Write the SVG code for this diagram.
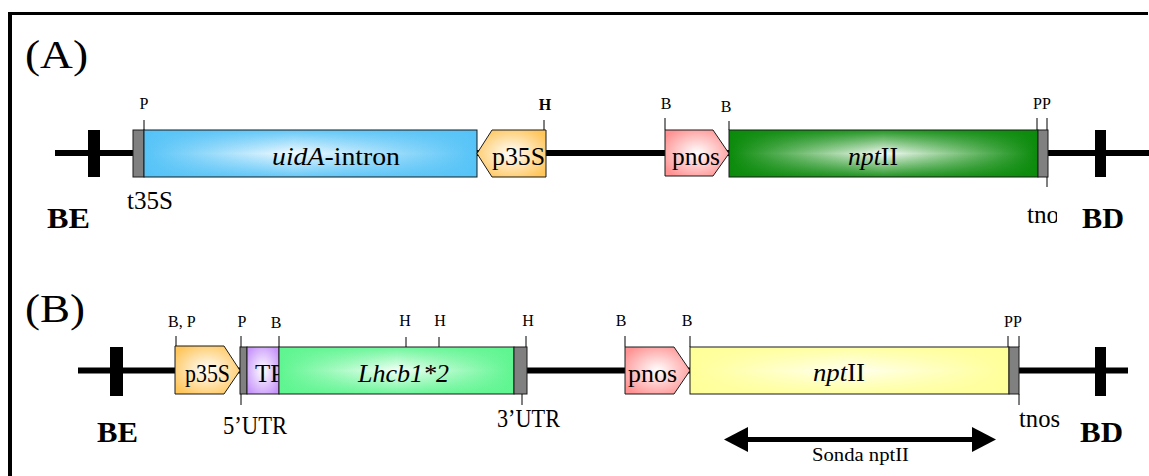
<svg xmlns="http://www.w3.org/2000/svg" width="1149" height="476" viewBox="0 0 1149 476">
  <style>
    text { font-family: "Liberation Serif", "Times New Roman", serif; fill: #000; }
    .site { font-size: 16px; }
    .siteb { font-size: 16px; font-weight: bold; }
    .lbl { font-size: 25px; }
    .it { font-style: italic; }
    .tag { font-size: 40px; }
    .end { font-size: 30px; font-weight: bold; }
    .probe { font-size: 19px; }
    .tick { stroke: #000; stroke-width: 1; fill: none; }
    .box { stroke: #1a1a1a; stroke-width: 1; }
    .term { fill: #808080; stroke: #1a1a1a; stroke-width: 1; }
    .bar { fill: #000; }
    .dna { stroke: #000; stroke-width: 6; fill: none; }
  </style>
  <defs>
    <!-- horizontal shading: saturated edges, pale centre -->
    <linearGradient id="gBlue" x1="0" y1="0" x2="1" y2="0">
      <stop offset="0" stop-color="#55C3F7"/>
      <stop offset="0.45" stop-color="#F2FAFF"/>
      <stop offset="1" stop-color="#55C3F7"/>
    </linearGradient>
    <linearGradient id="gBlueV" x1="0" y1="0" x2="0" y2="1">
      <stop offset="0" stop-color="#55C3F7" stop-opacity="0.9"/>
      <stop offset="0.5" stop-color="#55C3F7" stop-opacity="0"/>
      <stop offset="1" stop-color="#55C3F7" stop-opacity="0.9"/>
    </linearGradient>
    <linearGradient id="gDkGreen" x1="0" y1="0" x2="1" y2="0">
      <stop offset="0" stop-color="#0A8A0A"/>
      <stop offset="0.5" stop-color="#F4FAF4"/>
      <stop offset="1" stop-color="#0A8A0A"/>
    </linearGradient>
    <linearGradient id="gDkGreenV" x1="0" y1="0" x2="0" y2="1">
      <stop offset="0" stop-color="#0A8A0A" stop-opacity="0.9"/>
      <stop offset="0.5" stop-color="#0A8A0A" stop-opacity="0"/>
      <stop offset="1" stop-color="#0A8A0A" stop-opacity="0.9"/>
    </linearGradient>
    <linearGradient id="gLtGreen" x1="0" y1="0" x2="1" y2="0">
      <stop offset="0" stop-color="#5EF590"/>
      <stop offset="0.5" stop-color="#F4FFF7"/>
      <stop offset="1" stop-color="#5EF590"/>
    </linearGradient>
    <linearGradient id="gLtGreenV" x1="0" y1="0" x2="0" y2="1">
      <stop offset="0" stop-color="#5EF590" stop-opacity="0.9"/>
      <stop offset="0.5" stop-color="#5EF590" stop-opacity="0"/>
      <stop offset="1" stop-color="#5EF590" stop-opacity="0.9"/>
    </linearGradient>
    <linearGradient id="gYellow" x1="0" y1="0" x2="1" y2="0">
      <stop offset="0" stop-color="#FFFF99"/>
      <stop offset="0.5" stop-color="#FFFFF2"/>
      <stop offset="1" stop-color="#FFFF99"/>
    </linearGradient>
    <linearGradient id="gYellowV" x1="0" y1="0" x2="0" y2="1">
      <stop offset="0" stop-color="#FFFF99" stop-opacity="0.9"/>
      <stop offset="0.5" stop-color="#FFFF99" stop-opacity="0"/>
      <stop offset="1" stop-color="#FFFF99" stop-opacity="0.9"/>
    </linearGradient>
    <radialGradient id="gOrange" cx="0.5" cy="0.5" r="0.6">
      <stop offset="0" stop-color="#FFFFFF"/>
      <stop offset="1" stop-color="#FFC65C"/>
    </radialGradient>
    <radialGradient id="gPink" cx="0.5" cy="0.5" r="0.6">
      <stop offset="0" stop-color="#FFFFFF"/>
      <stop offset="1" stop-color="#FF9393"/>
    </radialGradient>
    <radialGradient id="gPurple" cx="0.5" cy="0.5" r="0.6">
      <stop offset="0" stop-color="#FFFFFF"/>
      <stop offset="1" stop-color="#C896FA"/>
    </radialGradient>
    <clipPath id="clipTnosA"><rect x="1000" y="190" width="57" height="50"/></clipPath>
    <clipPath id="clipTP"><rect x="247" y="347" width="32" height="47"/></clipPath>
  </defs>

  <!-- panel frame (top and left edges) -->
  <g id="frame">
    <line x1="8" y1="13.5" x2="1148" y2="13.5" stroke="#000" stroke-width="3"/>
    <line x1="10" y1="12" x2="10" y2="476" stroke="#000" stroke-width="4"/>
  </g>

  <text class="tag" x="25" y="68" textLength="63" lengthAdjust="spacingAndGlyphs">(A)</text>
  <text class="tag" x="25" y="322" textLength="60" lengthAdjust="spacingAndGlyphs">(B)</text>

  <!-- backbones and probe arrow -->
  <g id="connectors">
    <line class="dna" x1="55" y1="153" x2="1149" y2="153"/>
    <line class="dna" x1="78" y1="370.5" x2="1128" y2="370.5"/>
    <g id="probe">
      <line x1="746" y1="439.5" x2="974" y2="439.5" stroke="#000" stroke-width="5"/>
      <polygon points="724,439.5 748,427 748,452" fill="#000"/>
      <polygon points="996,439.5 972,427 972,452" fill="#000"/>
    </g>
  </g>

  <!-- ===== construct A ===== -->
  <g id="a-border-left">
    <rect class="bar" x="88" y="130" width="12" height="47"/>
    <text class="end" x="47" y="228" textLength="43" lengthAdjust="spacingAndGlyphs">BE</text>
  </g>
  <g id="a-t35S">
    <rect class="term" x="133" y="130" width="11" height="47"/>
    <text class="lbl" x="127" y="209" textLength="46" lengthAdjust="spacingAndGlyphs">t35S</text>
  </g>
  <g id="a-uidA">
    <rect x="144" y="130" width="333" height="47" fill="url(#gBlue)"/>
    <rect class="box" x="144" y="130" width="333" height="47" fill="url(#gBlueV)"/>
    <text class="lbl" x="272" y="165" textLength="128" lengthAdjust="spacingAndGlyphs"><tspan class="it">uidA</tspan>-intron</text>
  </g>
  <g id="a-p35S">
    <polygon class="box" points="477,153.5 492,130 546,130 546,177 492,177" fill="url(#gOrange)"/>
    <text class="lbl" x="492" y="165" textLength="53" lengthAdjust="spacingAndGlyphs">p35S</text>
  </g>
  <g id="a-pnos">
    <polygon class="box" points="665,130 713,130 729,153.5 713,176 665,176" fill="url(#gPink)"/>
    <text class="lbl" x="672" y="165" textLength="48" lengthAdjust="spacingAndGlyphs">pnos</text>
  </g>
  <g id="a-nptII">
    <rect x="729" y="130" width="309" height="47" fill="url(#gDkGreen)"/>
    <rect class="box" x="729" y="130" width="309" height="47" fill="url(#gDkGreenV)"/>
    <text class="lbl" x="848" y="165" textLength="50" lengthAdjust="spacingAndGlyphs"><tspan class="it">npt</tspan>II</text>
  </g>
  <g id="a-tnos">
    <rect class="term" x="1038" y="130" width="10" height="47"/>
    <text class="lbl" x="1027" y="223" clip-path="url(#clipTnosA)" textLength="42" lengthAdjust="spacingAndGlyphs">tnos</text>
  </g>
  <g id="a-border-right">
    <rect class="bar" x="1095" y="130" width="11" height="47"/>
    <text class="end" x="1082" y="228" textLength="42" lengthAdjust="spacingAndGlyphs">BD</text>
  </g>
  <g id="a-sites">
    <line class="tick" x1="144" y1="120" x2="144" y2="130"/>
    <text class="site" x="144" y="109" text-anchor="middle">P</text>
    <line class="tick" x1="544" y1="120" x2="544" y2="130"/>
    <text class="siteb" x="545" y="110" text-anchor="middle">H</text>
    <line class="tick" x1="665" y1="118" x2="665" y2="130"/>
    <text class="site" x="666" y="109" text-anchor="middle">B</text>
    <line class="tick" x1="729" y1="121" x2="729" y2="130"/>
    <text class="site" x="726" y="112" text-anchor="middle">B</text>
    <line class="tick" x1="1037" y1="118" x2="1037" y2="130"/>
    <line class="tick" x1="1047" y1="118" x2="1047" y2="130"/>
    <line class="tick" x1="1047" y1="177" x2="1047" y2="187"/>
    <text class="site" x="1042" y="109" text-anchor="middle">PP</text>
  </g>

  <!-- ===== construct B ===== -->
  <g id="b-border-left">
    <rect class="bar" x="110" y="347" width="13" height="49"/>
    <text class="end" x="97" y="442" textLength="41" lengthAdjust="spacingAndGlyphs">BE</text>
  </g>
  <g id="b-p35S">
    <polygon class="box" points="175,346 224,346 240,370.5 224,394 175,394" fill="url(#gOrange)"/>
    <text class="lbl" x="185" y="382" textLength="45" lengthAdjust="spacingAndGlyphs">p35S</text>
  </g>
  <g id="b-5UTR">
    <rect class="term" x="240" y="347" width="7" height="47"/>
    <text class="lbl" x="223" y="434" textLength="64" lengthAdjust="spacingAndGlyphs">5’UTR</text>
  </g>
  <g id="b-TP">
    <rect class="box" x="247" y="347" width="32" height="47" fill="url(#gPurple)"/>
    <text class="lbl" x="255" y="382" clip-path="url(#clipTP)">TP</text>
  </g>
  <g id="b-Lhcb">
    <rect x="279" y="347" width="235" height="47" fill="url(#gLtGreen)"/>
    <rect class="box" x="279" y="347" width="235" height="47" fill="url(#gLtGreenV)"/>
    <text class="lbl it" x="358" y="382" textLength="91" lengthAdjust="spacingAndGlyphs">Lhcb1*2</text>
  </g>
  <g id="b-3UTR">
    <rect class="term" x="514" y="347" width="13" height="47"/>
    <text class="lbl" x="497" y="427" textLength="63" lengthAdjust="spacingAndGlyphs">3’UTR</text>
  </g>
  <g id="b-pnos">
    <polygon class="box" points="625,347 674,347 690,370.5 674,394 625,394" fill="url(#gPink)"/>
    <text class="lbl" x="628" y="382" textLength="49" lengthAdjust="spacingAndGlyphs">pnos</text>
  </g>
  <g id="b-nptII">
    <rect x="690" y="347" width="319" height="47" fill="url(#gYellow)"/>
    <rect class="box" x="690" y="347" width="319" height="47" fill="url(#gYellowV)"/>
    <text class="lbl" x="813" y="381" textLength="52" lengthAdjust="spacingAndGlyphs"><tspan class="it">npt</tspan>II</text>
  </g>
  <g id="b-tnos">
    <rect class="term" x="1009" y="347" width="10" height="47"/>
    <text class="lbl" x="1019" y="427" textLength="41" lengthAdjust="spacingAndGlyphs">tnos</text>
  </g>
  <g id="b-border-right">
    <rect class="bar" x="1095" y="347" width="11" height="49"/>
    <text class="end" x="1080" y="442" textLength="43" lengthAdjust="spacingAndGlyphs">BD</text>
  </g>
  <g id="b-sites">
    <line class="tick" x1="176" y1="336" x2="176" y2="346"/>
    <text class="site" x="168" y="327">B, P</text>
    <line class="tick" x1="241" y1="336" x2="241" y2="347"/>
    <line class="tick" x1="241" y1="394" x2="241" y2="405"/>
    <text class="site" x="242" y="327" text-anchor="middle">P</text>
    <line class="tick" x1="279" y1="336" x2="279" y2="347"/>
    <text class="site" x="276" y="328" text-anchor="middle">B</text>
    <line class="tick" x1="406" y1="337" x2="406" y2="347"/>
    <text class="site" x="405" y="326" text-anchor="middle">H</text>
    <line class="tick" x1="439" y1="337" x2="439" y2="347"/>
    <text class="site" x="440" y="326" text-anchor="middle">H</text>
    <line class="tick" x1="526" y1="336" x2="526" y2="347"/>
    <line class="tick" x1="522" y1="394" x2="522" y2="405"/>
    <text class="site" x="528" y="326" text-anchor="middle">H</text>
    <line class="tick" x1="625" y1="336" x2="625" y2="347"/>
    <text class="site" x="621" y="326" text-anchor="middle">B</text>
    <line class="tick" x1="690" y1="336" x2="690" y2="347"/>
    <text class="site" x="687" y="326" text-anchor="middle">B</text>
    <line class="tick" x1="1008" y1="336" x2="1008" y2="347"/>
    <line class="tick" x1="1019" y1="336" x2="1019" y2="347"/>
    <line class="tick" x1="1019" y1="394" x2="1019" y2="405"/>
    <text class="site" x="1013" y="327" text-anchor="middle">PP</text>
  </g>
  <text class="probe" x="812" y="461" textLength="97" lengthAdjust="spacingAndGlyphs">Sonda nptII</text>
</svg>
